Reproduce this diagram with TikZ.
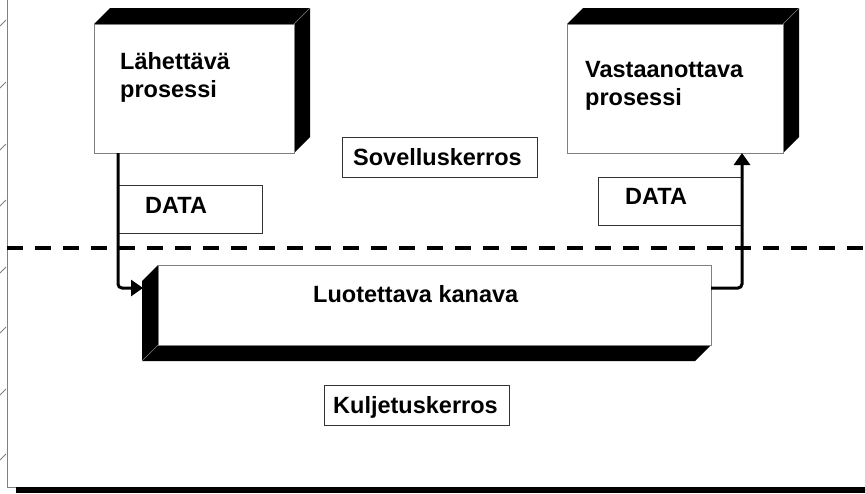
\documentclass[tikz,border=0pt]{standalone}
\usepackage{fontspec}
\setmainfont{Liberation Sans}
\usetikzlibrary{arrows.meta,calc}

\definecolor{edgegray}{HTML}{808080}
\definecolor{boxline}{HTML}{333333}

\tikzset{
  lbl/.style={font=\fontsize{23.5}{28}\selectfont\bfseries, anchor=base west, inner sep=0pt},
  face/.style={draw=edgegray, line width=1pt, fill=white, outer sep=0pt, inner sep=0pt, anchor=north west},
  tagbox/.style={draw=boxline, line width=1pt, fill=white, outer sep=0pt, inner sep=0pt, anchor=north west},
  bevel/.style={fill=black},
  flow/.style={line width=3pt, rounded corners=4pt, -{Triangle[length=12pt,width=16pt]}},
  layerline/.style={line width=4pt, dash pattern=on 16pt off 12pt},
  frameline/.style={draw=edgegray, line width=1pt},
}

\begin{document}
\begin{tikzpicture}[x=1pt, y=-1pt]
  \useasboundingbox (0,0) rectangle (865,493);

  % outer frame with its hatch ticks and bottom shadow
  \coordinate (fTop) at (7,0);
  \coordinate (fCorner) at (7,487);
  \coordinate (fEnd) at (16,487);
  \draw[frameline] (fTop) -- (fCorner) -- (fEnd);
  \foreach \ty in {20,82,144,200,267,327,389,454}
    \draw[edgegray, line width=0.8pt] (0,\ty+6) -- (6,\ty);
  \fill[black] (fEnd) rectangle (865,493);

  % layer boundary
  \coordinate (dashL) at (7,248);
  \coordinate (dashR) at (865,248);
  \draw[layerline] (dashL) -- (dashR);

  % sending process (3D box, depth to upper right)
  \node[face, minimum width=200pt, minimum height=129pt] (send) at (94,24) {};
  \fill[bevel] (send.north west) -- ++(16,-16) -- ($(send.north east)+(16,-16)$)
    -- ($(send.south east)+(16,-16)$) -- (send.south east) -- (send.north east) -- cycle;
  \draw[edgegray, line width=0.6pt] (send.north east) -- ++(16,-16);
  \node[face, minimum width=200pt, minimum height=129pt] at (send.north west) {};
  \node[lbl] (sendA) at (120,69) {Lähettävä};
  \node[lbl] (sendB) at (120,97) {prosessi};

  % receiving process
  \node[face, minimum width=216pt, minimum height=129pt] (recv) at (567,24) {};
  \fill[bevel] (recv.north west) -- ++(16,-16) -- ($(recv.north east)+(16,-16)$)
    -- ($(recv.south east)+(16,-16)$) -- (recv.south east) -- (recv.north east) -- cycle;
  \draw[edgegray, line width=0.6pt] (recv.north east) -- ++(16,-16);
  \node[face, minimum width=216pt, minimum height=129pt] at (recv.north west) {};
  \node[lbl] (recvA) at (585,77) {Vastaanottava};
  \node[lbl] (recvB) at (585,105) {prosessi};

  % layer name tags
  \node[tagbox, minimum width=195pt, minimum height=40pt] (app) at (342,137) {};
  \node[lbl] (appT) at (353,165) {Sovelluskerros};
  \node[tagbox, minimum width=185pt, minimum height=40pt] (trans) at (324,385) {};
  \node[lbl] (transT) at (333,413) {Kuljetuskerros};

  % data tags beside the flow lines
  \node[tagbox, minimum width=144pt, minimum height=48pt] (dataL) at (118,185) {};
  \node[lbl] (dataLT) at (145,213) {DATA};
  \node[tagbox, minimum width=144pt, minimum height=48pt] (dataR) at (598,177) {};
  \node[lbl] (dataRT) at (625,204) {DATA};

  % reliable channel (3D box, depth to lower left)
  \node[face, minimum width=553pt, minimum height=80pt] (chan) at (158,265) {};
  \fill[bevel] (chan.north west) -- ++(-16,16) -- ($(chan.south west)+(-16,16)$)
    -- ($(chan.south east)+(-16,16)$) -- (chan.south east) -- (chan.south west) -- cycle;
  \draw[edgegray, line width=0.6pt] (chan.south west) -- ++(-16,16);
  \node[face, minimum width=553pt, minimum height=80pt] at (chan.north west) {};
  \node[lbl] (chanT) at (313,302) {Luotettava kanava};

  % data flow through the channel
  \coordinate (inL) at (143,288);
  \coordinate (outR) at (711,288);
  \draw[flow] (dataL.west |- send.south) |- (inL);
  \draw[flow] (outR) -| (dataR.east |- recv.south);
\end{tikzpicture}
\end{document}
